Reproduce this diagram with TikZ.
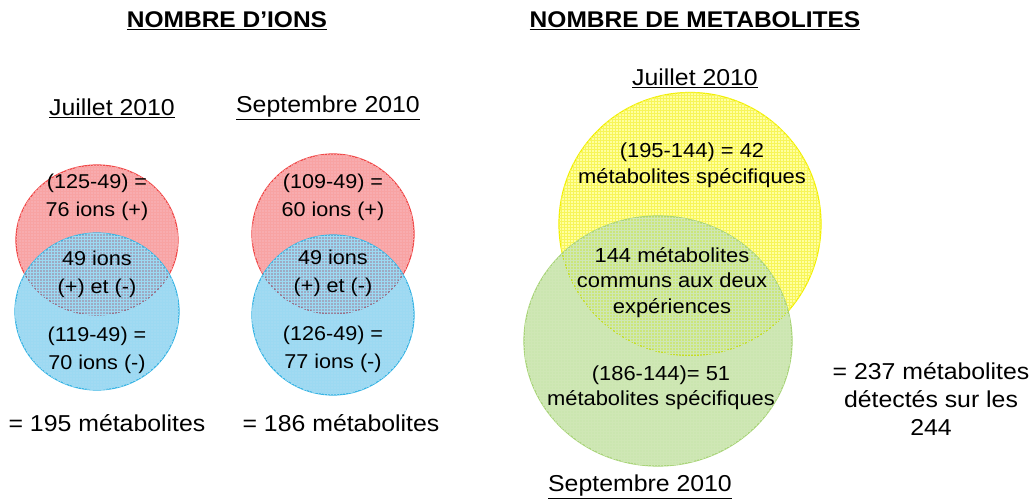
\documentclass[tikz,border=0pt]{standalone}
\usepackage{fontspec}
\setmainfont{Liberation Sans}[FakeStretch=1.08]
\usetikzlibrary{patterns,shapes.geometric}
\definecolor{rline}{HTML}{F04848}
\definecolor{rfill}{HTML}{EE3A40}
\definecolor{bline}{HTML}{38B4E4}
\definecolor{bfill}{HTML}{22A8E0}
\definecolor{yline}{HTML}{F2F000}
\definecolor{yfill}{HTML}{FFFF40}
\definecolor{gline}{HTML}{A8D478}
\definecolor{gfill}{HTML}{8CC850}
\tikzset{
  venn/.style={ellipse, draw, line width=1.2pt, inner sep=0pt, fill opacity=0.42},
  tex/.style={postaction={pattern=grid, pattern color=#1}},
  title/.style={font=\fontsize{22.7}{26}\selectfont\bfseries},
  label/.style={font=\fontsize{23}{26}\selectfont},
  ctext/.style={font=\fontsize{20}{28}\selectfont, align=center},
  rtext/.style={font=\fontsize{20.3}{25.5}\selectfont, align=center},
  btext/.style={font=\fontsize{23}{28}\selectfont, align=center},
}
\begin{document}
\begin{tikzpicture}[x=1pt,y=-1pt]
\useasboundingbox (0,0) rectangle (1034,500);
% left venn (Juillet)
\node[venn, draw=rline, fill=rfill, tex=rline!50, minimum width=162pt, minimum height=150pt] (r1) at (97,240) {};
\node[venn, draw=bline, fill=bfill, tex=bline!50, minimum width=164pt, minimum height=157pt] (b1) at (97,311.5) {};
% second venn (Septembre)
\node[venn, draw=rline, fill=rfill, tex=rline!50, minimum width=162pt, minimum height=160pt] (r2) at (333,234) {};
\node[venn, draw=bline, fill=bfill, tex=bline!50, minimum width=162pt, minimum height=160pt] (b2) at (333,315) {};
% right venn
\node[venn, draw=yline, fill=yfill, fill opacity=0.5, tex=yline!65, minimum width=262pt, minimum height=263pt] (y3) at (690,224) {};
\node[venn, draw=gline, fill=gfill, fill opacity=0.45, tex=gline!55, minimum width=268pt, minimum height=250pt] (g3) at (658,341) {};
% titles
\node[title] (t1) at (227,21) {\underline{NOMBRE D’IONS}};
\node[title] (t2) at (695,21) {\underline{NOMBRE DE METABOLITES}};
\node[label] (l1) at (112,108) {\underline{Juillet 2010}};
\node[label] (l2) at (328,108) {\underline{Septembre 2010}};
\node[label] (l3) at (695,78) {\underline{Juillet 2010}};
\node[label] (l4) at (640,487) {\underline{Septembre 2010}};
% left texts
\node[ctext] (a1) at (97,197.5) {(125-49) =\\76 ions (+)};
\node[ctext] (a2) at (97,274) {49 ions\\(+) et (-)};
\node[ctext] (a3) at (97,350) {(119-49) =\\70 ions (-)};
\node[ctext] (c1) at (333,197.5) {(109-49) =\\60 ions (+)};
\node[ctext] (c2) at (333,273.5) {49 ions\\(+) et (-)};
\node[ctext] (c3) at (333,349.5) {(126-49) =\\77 ions (-)};
% right texts
\node[rtext] (d1) at (692,165.5) {(195-144) = 42\\métabolites spécifiques};
\node[rtext] (d2) at (672,282.5) {144 métabolites\\communs aux deux\\expériences};
\node[rtext] (d3) at (661,387.5) {(186-144)= 51\\métabolites spécifiques};
% bottom texts
\node[btext] (s1) at (107,423) {= 195 métabolites};
\node[btext] (s2) at (341,423) {= 186 métabolites};
\node[btext] (s3) at (931,399) {= 237 métabolites\\détectés sur les\\244};
\end{tikzpicture}
\end{document}
